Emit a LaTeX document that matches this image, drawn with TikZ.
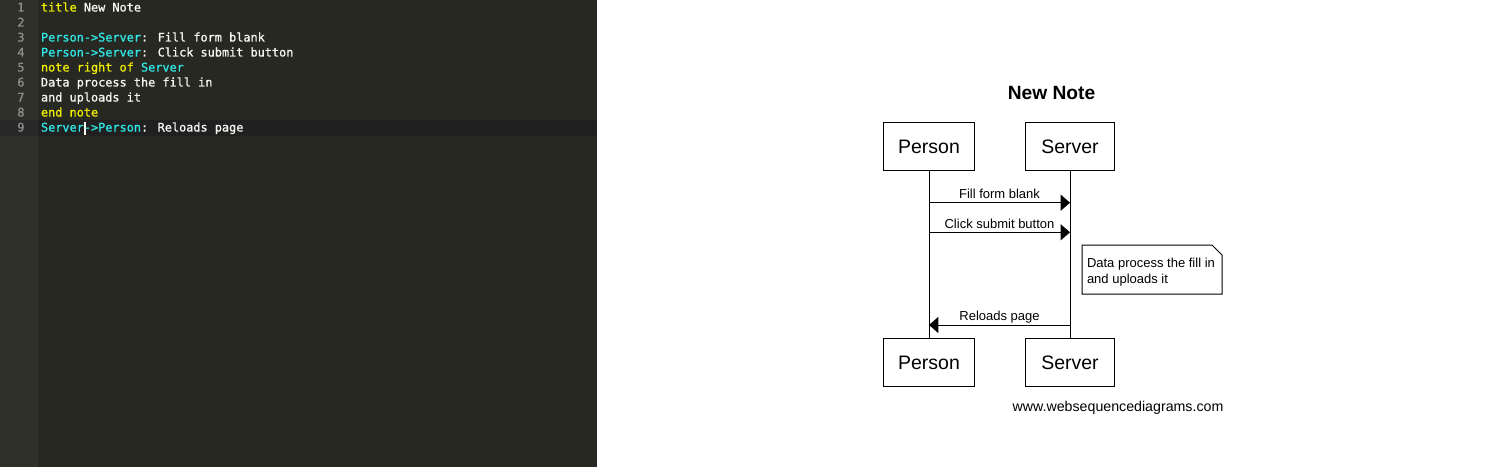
\documentclass[tikz,border=0pt]{standalone}
\usepackage{fontspec}
\setmainfont{Liberation Sans}
\newfontfamily\edfont{DejaVu Sans Mono}[FakeBold=0.9]
\usetikzlibrary{arrows.meta}
\definecolor{edbg}{HTML}{272822}
\definecolor{gutbg}{HTML}{2F3129}
\definecolor{edhl}{HTML}{202020}
\definecolor{guthl}{HTML}{282828}
\definecolor{kwy}{HTML}{F2F200}
\definecolor{idc}{HTML}{30E8E8}
\definecolor{txw}{HTML}{F8F8F2}
\definecolor{lnum}{HTML}{8F908A}
\begin{document}
\begin{tikzpicture}[x=0.75pt,y=-0.75pt,
  every node/.style={inner sep=0pt, outer sep=0pt},
  edline/.style={anchor=base west, font=\edfont\fontsize{8.9pt}{10pt}\selectfont, text=txw},
  lnumber/.style={anchor=base east, font=\edfont\fontsize{8.9pt}{10pt}\selectfont, text=lnum},
  actor/.style={draw, line width=0.75pt, minimum height=36.4pt, font=\fontsize{14.6pt}{16pt}\selectfont},
  lifeline/.style={draw, line width=0.75pt},
  msg/.style={draw, line width=0.75pt, -{Triangle[length=7pt,width=12pt]}},
  msglabel/.style={anchor=base, font=\fontsize{9.75pt}{12pt}\selectfont},
  notebox/.style={minimum width=105pt, minimum height=36.75pt},
  notetext/.style={anchor=north west, align=left, font=\fontsize{9.75pt}{12pt}\selectfont},
  notedraw/.style={draw, line width=0.75pt, fill=white}
]
\useasboundingbox (0,0) rectangle (1488,467);
% backgrounds
\fill[white] (0,0) rectangle (1488,467);
\fill[edbg] (0,0) rectangle (597,467);
\fill[gutbg] (0,0) rectangle (38,467);
\fill[edhl] (38,120) rectangle (597,135.5);
\fill[guthl] (0,120) rectangle (38,135.5);
% line numbers
\foreach \n in {1,...,9}{
  \node[lnumber] (ln\n) at (24.5,{11.5+15*(\n-1)}) {\n};
}
% code lines
\node[edline] (c1) at (41,11.5) {\textcolor{kwy}{title} New Note};
\node[edline] (c3) at (41,41.5) {\textcolor{idc}{Person->Server}: Fill form blank};
\node[edline] (c4) at (41,56.5) {\textcolor{idc}{Person->Server}: Click submit button};
\node[edline] (c5) at (41,71.5) {\textcolor{kwy}{note right of }\textcolor{idc}{Server}};
\node[edline] (c6) at (41,86.5) {Data process the fill in};
\node[edline] (c7) at (41,101.5) {and uploads it};
\node[edline] (c8) at (41,116.5) {\textcolor{kwy}{end note}};
\node[edline] (c9) at (41,131.5) {\textcolor{idc}{Server->Person}: Reloads page};
% cursor
\fill[txw] (84,121.5) rectangle (86,134.5);

% sequence diagram
\node[font=\bfseries\fontsize{14.4pt}{16pt}\selectfont, anchor=base] (title) at (1051.5,99.5) {New Note};
\node[actor, minimum width=68.25pt] (ptop) at (929,146.5) {Person};
\node[actor, minimum width=66.75pt] (stop) at (1070,146.5) {Server};
\node[actor, minimum width=68.25pt] (pbot) at (929,362.5) {Person};
\node[actor, minimum width=66.75pt] (sbot) at (1070,362.5) {Server};
\draw[lifeline] (ptop.south) -- (pbot.north);
\draw[lifeline] (stop.south) -- (sbot.north);

\coordinate (m1a) at (ptop.south |- 0,202.7);
\coordinate (m1b) at (stop.south |- 0,202.7);
\coordinate (m2a) at (ptop.south |- 0,232.3);
\coordinate (m2b) at (stop.south |- 0,232.3);
\coordinate (m3a) at (stop.south |- 0,325);
\coordinate (m3b) at (ptop.south |- 0,325);
\draw[msg] (m1a) -- (m1b);
\draw[msg] (m2a) -- (m2b);
\draw[msg] (m3a) -- (m3b);
\node[msglabel] (l1) at (999.5,198.4) {Fill form blank};
\node[msglabel] (l2) at (999.5,228.2) {Click submit button};
\node[msglabel] (l3) at (999.5,320.9) {Reloads page};

% note
\node[notebox] (nt) at (1152,269.5) {};
\draw[notedraw] (nt.north west) -- ([shift={(-10,0)}]nt.north east) -- ([shift={(0,10)}]nt.north east) -- (nt.south east) -- (nt.south west) -- cycle;
\node[notetext] (ntx) at ([shift={(5,13.4)}]nt.north west) {Data process the fill in\\and uploads it};

\node[anchor=base, font=\fontsize{10.65pt}{12pt}\selectfont] (site) at (1118,411) {www.websequencediagrams.com};
\end{tikzpicture}
\end{document}
